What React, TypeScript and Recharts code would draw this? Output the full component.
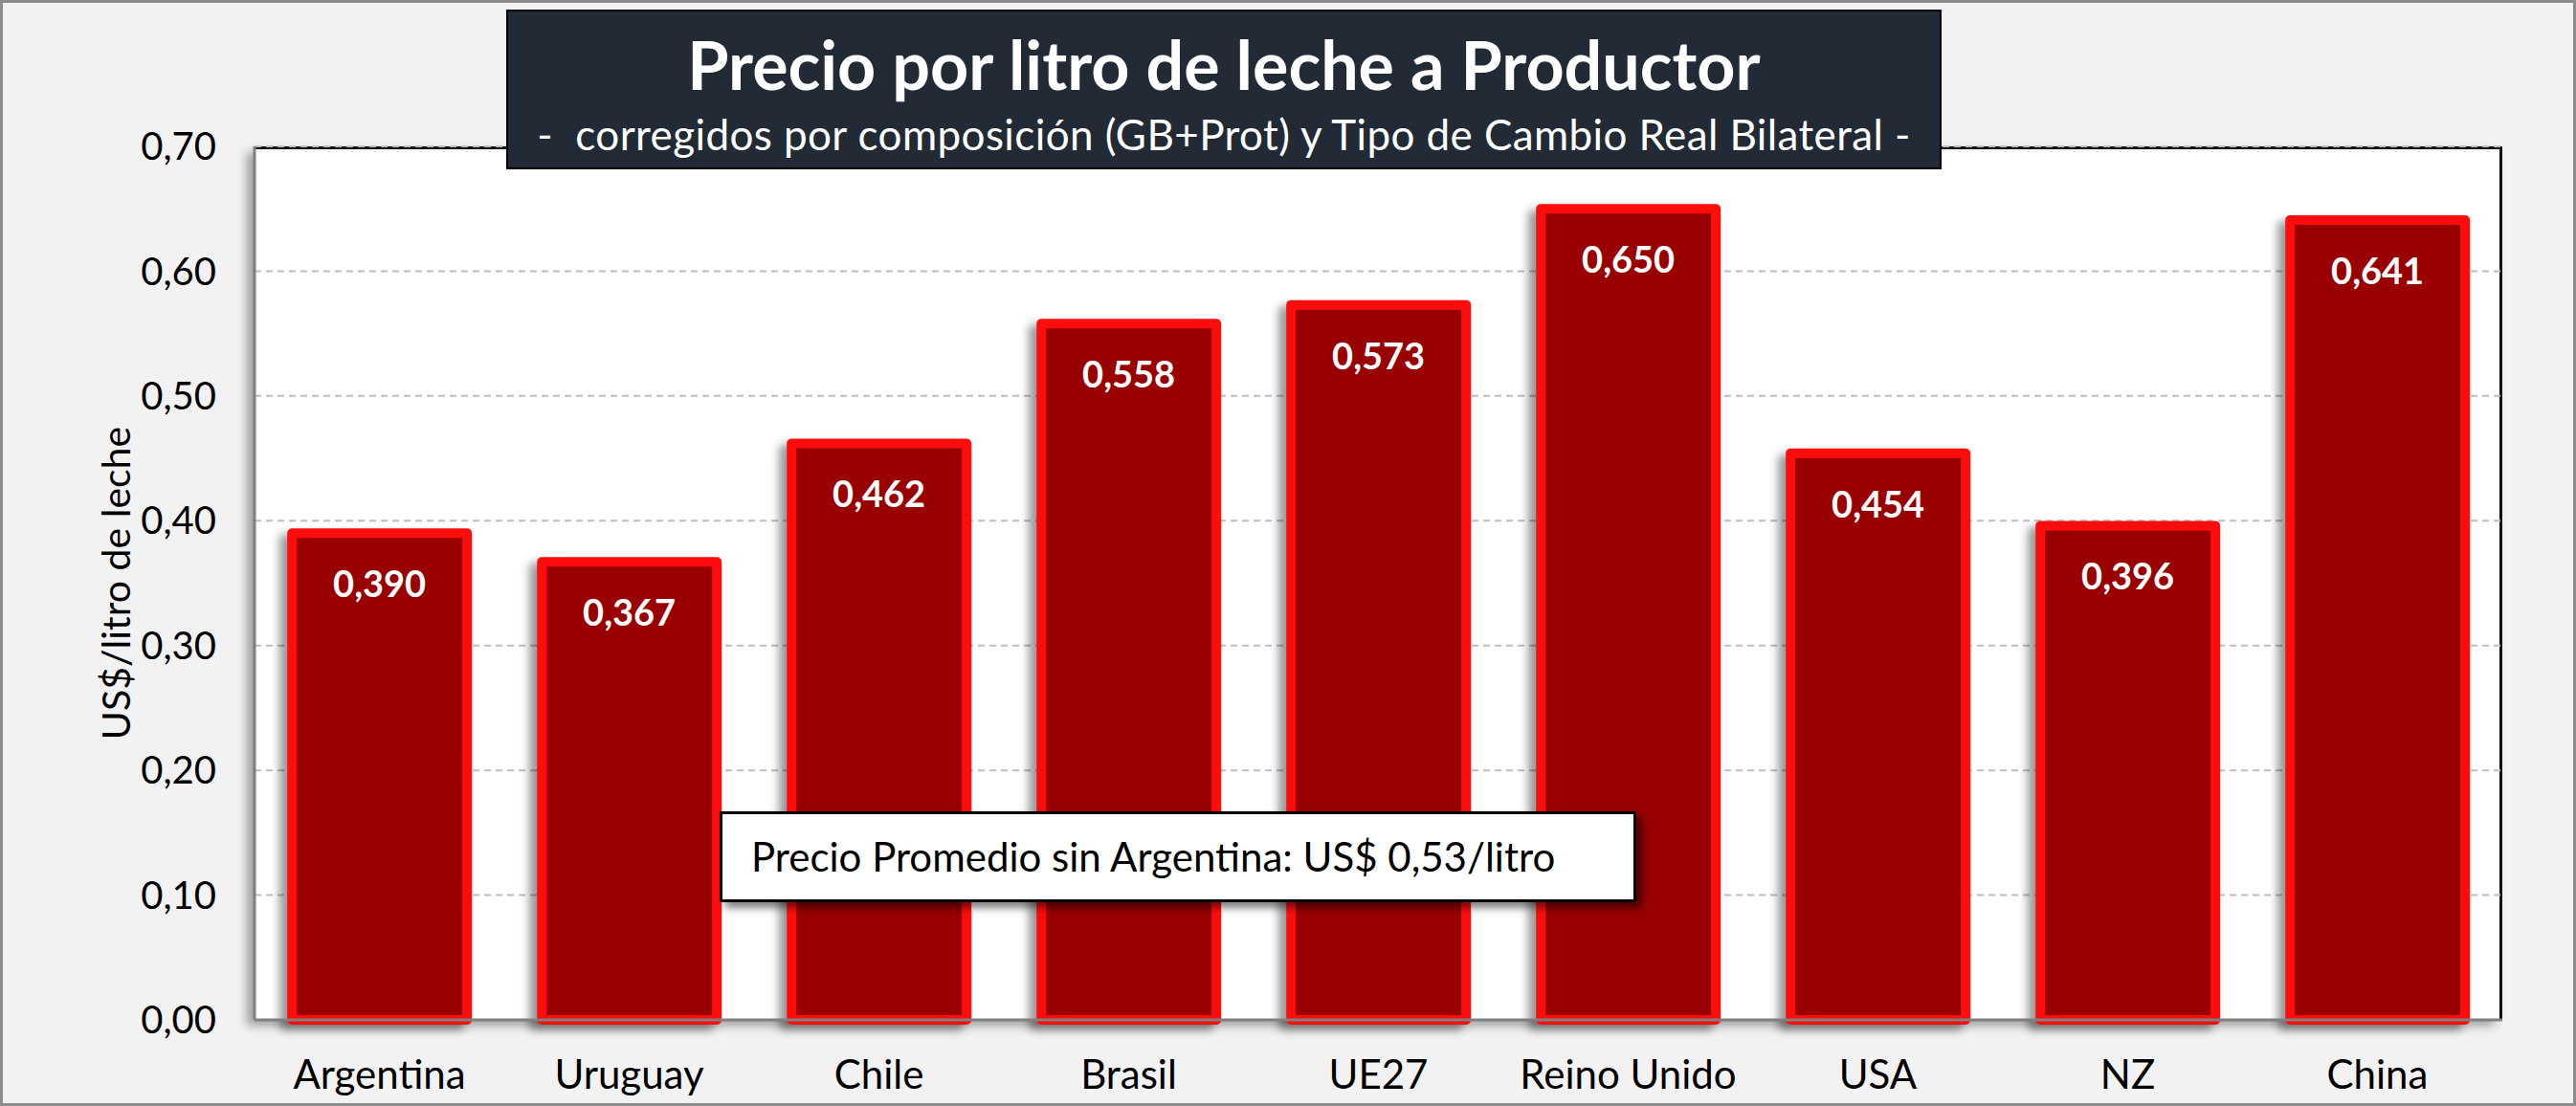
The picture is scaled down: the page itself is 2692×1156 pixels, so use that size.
import { BarChart, Bar, XAxis, YAxis, CartesianGrid, LabelList } from "recharts";

const countries = ["Argentina", "Uruguay", "Chile", "Brasil", "UE27", "Reino Unido", "USA", "NZ", "China"];
const prices = [0.39, 0.367, 0.462, 0.558, 0.573, 0.65, 0.454, 0.396, 0.641];
const yTicks = [0, 0.1, 0.2, 0.3, 0.4, 0.5, 0.6, 0.7];

const chartTitle = "Precio por litro de leche a Productor";
const chartSubtitle = "-  corregidos por composición (GB+Prot) y Tipo de Cambio Real Bilateral -";
const yTitle = "US$/litro de leche";
const note = "Precio Promedio sin Argentina: US$ 0,53/litro";

const data = countries.map((c, i) => ({ name: c, price: prices[i] }));

const FONT = "Lato, 'Open Sans', sans-serif";

const fmt2 = (v: number) => v.toFixed(2).replace(".", ",");
const fmt3 = (v: number) => v.toFixed(3).replace(".", ",");

const W = 2692;
const H = 1156;

export default function App() {
  return (
    <div
      style={{
        position: "absolute",
        left: 0,
        top: 0,
        width: W,
        height: H,
        background: "#f2f2f2",
        border: "3px solid #8c8c8c",
        boxSizing: "border-box",
        fontFamily: FONT,
        overflow: "hidden",
      }}
    >
      {/* plot area background */}
      <div
        style={{
          position: "absolute",
          left: 263,
          top: 150,
          width: 2349,
          height: 913,
          background: "#fff",
          borderTop: "3px solid #111",
          borderRight: "3px solid #111",
          boxSizing: "border-box",
          boxShadow: "-8px 6px 10px rgba(0,0,0,0.35)",
        }}
      />
      <div style={{ position: "absolute", left: -3, top: -3 }}>
        <BarChart
          width={W}
          height={H}
          data={data}
          margin={{ top: 153, right: 77, left: 120, bottom: 10 }}
          barCategoryGap="15%"
        >
          <defs>
            <filter id="barShadow" x="-20%" y="-5%" width="140%" height="110%">
              <feDropShadow dx={-8} dy={6} stdDeviation={5} floodColor="#000" floodOpacity={0.4} />
            </filter>
          </defs>
          <CartesianGrid vertical={false} stroke="#bdbdbd" strokeDasharray="7 5" strokeWidth={2} />
          <XAxis
            dataKey="name"
            height={80}
            axisLine={{ stroke: "#808080", strokeWidth: 3 }}
            tickLine={false}
            tickSize={0}
            tickMargin={42}
            tick={{ fill: "#000", fontSize: 42, fontFamily: FONT }}
            interval={0}
          />
          <YAxis
            width={146}
            domain={[0, 0.7]}
            ticks={yTicks}
            tickFormatter={fmt2}
            axisLine={{ stroke: "#808080", strokeWidth: 3 }}
            tickLine={false}
            tickSize={38}
            tick={{ fill: "#000", fontSize: 40, fontFamily: FONT }}
            label={{
              content: (props: any) => {
                const vb = props.viewBox || {};
                const x = (vb.x ?? 120) + 0;
                const y = (vb.y ?? 153) + (vb.height ?? 913) / 2;
                return (
                  <text
                    x={x}
                    y={y}
                    transform={`rotate(-90, ${x}, ${y})`}
                    textAnchor="middle"
                    dominantBaseline="central"
                    fontSize={41}
                    fontFamily={FONT}
                    fill="#000"
                  >
                    {yTitle}
                  </text>
                );
              },
            }}
          />
          <Bar
            dataKey="price"
            fill="#990000"
            stroke="#ff1010"
            strokeWidth={10}
            strokeLinejoin="round"
            filter="url(#barShadow)"
            isAnimationActive={false}
          >
            <LabelList
              dataKey="price"
              position="insideTop"
              offset={40}
              formatter={(v: any) => fmt3(Number(v))}
              fill="#fff"
              fontSize={38}
              fontWeight="bold"
              fontFamily={FONT}
            />
          </Bar>
        </BarChart>
      </div>
      {/* title box */}
      <div
        style={{
          position: "absolute",
          left: 526,
          top: 7,
          width: 1500,
          height: 167,
          background: "#222a35",
          border: "2px solid #000",
          boxSizing: "border-box",
          color: "#fff",
          textAlign: "center",
          whiteSpace: "pre",
        }}
      >
        <div style={{ fontSize: 70, fontWeight: "bold", lineHeight: "70px", marginTop: 20 }}>{chartTitle}</div>
        <div style={{ fontSize: 44, lineHeight: "44px", marginTop: 16, letterSpacing: 0.4 }}>{chartSubtitle}</div>
      </div>
      {/* note box */}
      <div
        style={{
          position: "absolute",
          left: 749,
          top: 845,
          width: 958,
          height: 95,
          background: "#fff",
          border: "3px solid #000",
          boxSizing: "border-box",
          boxShadow: "6px 6px 8px rgba(0,0,0,0.5)",
          fontSize: 42,
          lineHeight: "89px",
          paddingLeft: 30,
          color: "#000",
        }}
      >
        {note}
      </div>
    </div>
  );
}
